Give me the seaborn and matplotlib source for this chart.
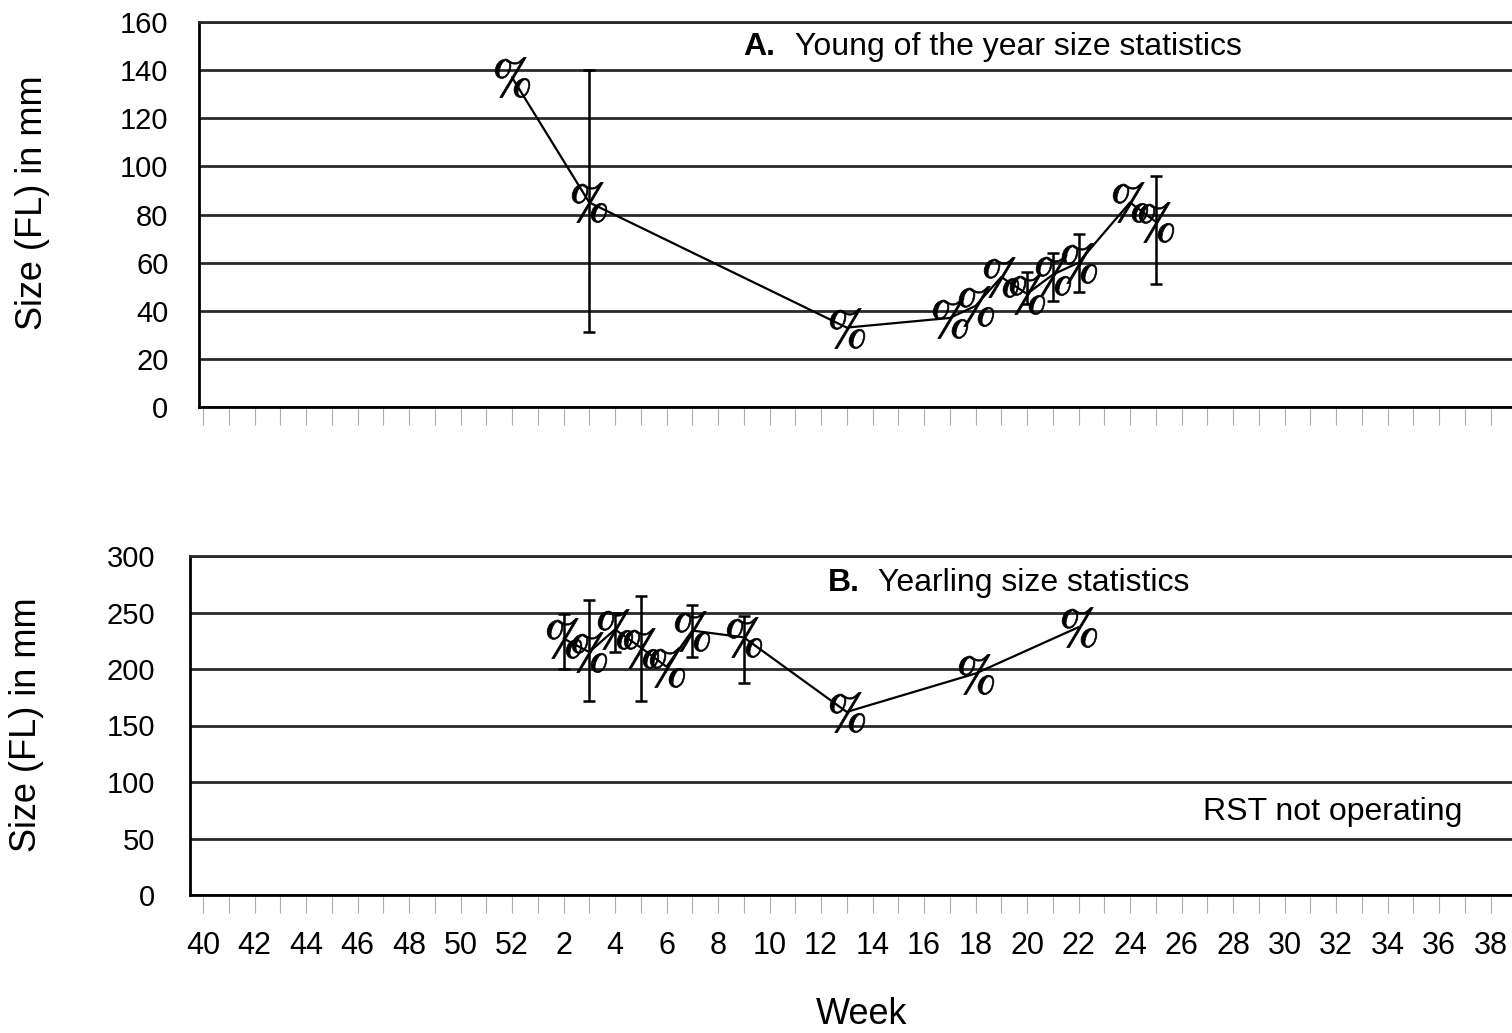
import numpy as np
import pandas as pd
import matplotlib
matplotlib.use("Agg")
import matplotlib.pyplot as plt
import seaborn as sns

# ---------------- data ----------------
tick_weeks = [40, 42, 44, 46, 48, 50, 52, 2, 4, 6, 8, 10, 12, 14, 16, 18, 20,
              22, 24, 26, 28, 30, 32, 34, 36, 38]

yoy_weeks = [52, 3, 13, 17, 18, 19, 20, 21, 22, 24, 25]
yoy_mean = [137, 85, 33, 37, 42, 54, 47, 55, 60, 85, 77]
yoy_err_weeks = [3, 20, 21, 22, 25]
yoy_err_lo = [31, 43, 44, 48, 51]
yoy_err_hi = [140, 56, 64, 72, 96]

yrl_weeks = [2, 3, 4, 5, 6, 7, 9, 13, 18, 22]
yrl_mean = [227, 215, 235, 219, 202, 234, 228, 162, 196, 237]
yrl_err_weeks = [2, 3, 4, 5, 7, 9]
yrl_err_lo = [200, 172, 215, 172, 211, 188]
yrl_err_hi = [249, 261, 250, 265, 257, 247]


def widx(w):
    w = np.asarray(w)
    return np.where(w >= 40, w - 40, w + 12)


sns.set_style("white")
plt.rcParams["font.family"] = ["Liberation Sans", "DejaVu Sans"]
plt.rcParams["mathtext.fontset"] = "stix"
for k in ["text.color", "axes.labelcolor", "xtick.labelcolor", "ytick.labelcolor"]:
    plt.rcParams[k] = "black"

W, H = 1512, 1033
fig = plt.figure(figsize=(W / 100, H / 100), dpi=100)

px_per_wk = 25.75
x0 = 203.0
xr = (W - x0) / px_per_wk

axA = fig.add_axes([199 / W, 1 - 407 / H, 1 - 199 / W, (407 - 22) / H])
axB = fig.add_axes([190 / W, 1 - 895 / H, 1 - 190 / W, (895 - 556) / H])

grid_c = "#2a2a2a"
marker = r"$\%$"


def style_axis(ax, ymax, ystep, xleft, show_labels, ypad):
    ax.set_xlim(xleft, xr)
    ax.set_ylim(0, ymax)
    ax.set_yticks(np.arange(0, ymax + 1, ystep))
    ax.yaxis.grid(True, color=grid_c, lw=2.0)
    ax.xaxis.grid(False)
    ax.set_axisbelow(True)
    for s in ["left", "bottom"]:
        ax.spines[s].set_color("black")
        ax.spines[s].set_linewidth(2)
        ax.spines[s].set_visible(True)
    ax.spines["right"].set_visible(False)
    ax.spines["top"].set_visible(True)
    ax.spines["top"].set_color(grid_c)
    ax.spines["top"].set_linewidth(2)
    ax.tick_params(axis="y", length=0, pad=ypad, labelsize=21, labelcolor="black")
    allpos = np.arange(0, 51)
    ax.set_xticks(allpos)
    if show_labels:
        lookup = dict(zip(widx(tick_weeks).tolist(), tick_weeks))
        ax.set_xticklabels([str(lookup[p]) if p in lookup else "" for p in allpos])
    else:
        ax.set_xticklabels([])
    ax.tick_params(axis="x", direction="out", length=13, width=0.8,
                   color="#aaaaaa", pad=13, labelsize=22, bottom=True,
                   labelcolor="black")
    ax.set_xlabel("")
    ax.set_ylabel("")


# ---- Panel A ----
dfA = pd.DataFrame({"x": widx(yoy_weeks), "y": yoy_mean})
sns.lineplot(data=dfA, x="x", y="y", ax=axA, color="black", lw=1.6,
             marker=marker, markersize=29, markeredgewidth=0.5,
             markerfacecolor="black", markeredgecolor="black")
ea_mean = [yoy_mean[yoy_weeks.index(w)] for w in yoy_err_weeks]
axA.errorbar(widx(yoy_err_weeks), ea_mean,
             yerr=[np.array(ea_mean) - np.array(yoy_err_lo),
                   np.array(yoy_err_hi) - np.array(ea_mean)],
             fmt="none", ecolor="black", elinewidth=1.8, capsize=4, capthick=1.8)
style_axis(axA, 160, 20, (199 - x0) / px_per_wk, False, 22)

# ---- Panel B ----
dfB = pd.DataFrame({"x": widx(yrl_weeks), "y": yrl_mean})
sns.lineplot(data=dfB, x="x", y="y", ax=axB, color="black", lw=1.6,
             marker=marker, markersize=29, markeredgewidth=0.5,
             markerfacecolor="black", markeredgecolor="black")
eb_mean = [yrl_mean[yrl_weeks.index(w)] for w in yrl_err_weeks]
axB.errorbar(widx(yrl_err_weeks), eb_mean,
             yerr=[np.array(eb_mean) - np.array(yrl_err_lo),
                   np.array(yrl_err_hi) - np.array(eb_mean)],
             fmt="none", ecolor="black", elinewidth=1.8, capsize=4, capthick=1.8)
style_axis(axB, 300, 50, (190 - x0) / px_per_wk, True, 25)

# ---- texts ----
fs_t = 23
fig.text(743 / W, 1 - 47 / H, "A.", fontsize=fs_t, fontweight="bold",
         ha="left", va="center", color="black")
fig.text(795 / W, 1 - 47 / H, "Young of the year size statistics",
         fontsize=fs_t, ha="left", va="center", color="black")
fig.text(828 / W, 1 - 583 / H, "B.", fontsize=fs_t, fontweight="bold",
         ha="left", va="center", color="black")
fig.text(878 / W, 1 - 583 / H, "Yearling size statistics",
         fontsize=fs_t, ha="left", va="center", color="black")
fig.text(1203 / W, 1 - 812 / H, "RST not operating", fontsize=fs_t,
         ha="left", va="center", color="black")

fig.text(33 / W, 1 - 203 / H, "Size (FL) in mm", fontsize=26, rotation=90,
         ha="center", va="center", color="black")
fig.text(27 / W, 1 - 725 / H, "Size (FL) in mm", fontsize=26, rotation=90,
         ha="center", va="center", color="black")
fig.text(862 / W, 1 - 1015 / H, "Week", fontsize=26, ha="center", va="center",
         color="black")

fig.savefig("out.png", dpi=100)
